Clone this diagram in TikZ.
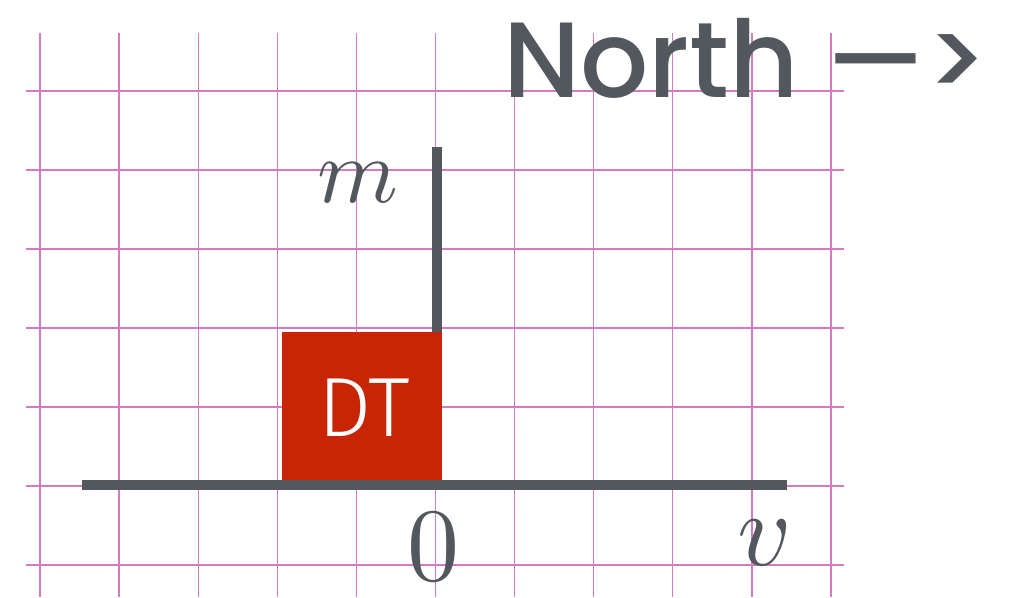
\documentclass[tikz,border=0pt]{standalone}
\usepackage{fontspec}
\IfFontExistsTF{Poppins Medium}{\newfontfamily\handfont{Poppins Medium}}{\newfontfamily\handfont{Poppins}}
\IfFontExistsTF{Fira Sans Light}{\newfontfamily\dtfont{Fira Sans Light}}{\newfontfamily\dtfont{Fira Sans}}
\definecolor{axisgray}{HTML}{53585F}
\definecolor{boxred}{HTML}{C82506}
\definecolor{gridpink}{HTML}{D47BC0}
\tikzset{
  gridline/.style={draw=gridpink, line width=1.3pt},
  axisline/.style={draw=axisgray, line width=10pt},
  mathlabel/.style={text=axisgray, inner sep=0pt},
}
\begin{document}
\begin{tikzpicture}[x=1pt,y=-1pt]
\useasboundingbox (0,0) rectangle (1014,597);
% grid
\foreach \i in {0,...,10} {
  \draw[gridline] ({40+79.1*\i},33) -- ({40+79.1*\i},597);
}
\foreach \j in {0,...,6} {
  \draw[gridline] (26,{91+79*\j}) -- (844,{91+79*\j});
}
% axes
\coordinate (hleft) at (82,485);
\coordinate (hright) at (787,485);
\coordinate (origin) at (437,485);
\coordinate (vtop) at (437,147);
\draw[axisline] (origin) -- (vtop);
% red box
\node[fill=boxred, minimum width=160pt, minimum height=148pt, inner sep=0pt, anchor=north west] (dt) at (282,332) {};
\node[text=white, inner sep=0pt] (dtlabel) at (364,408) {\dtfont\fontsize{84}{84}\selectfont DT};
\draw[axisline] (hleft) -- (hright);
% labels
\node[mathlabel] (mlab) at (358,183) {\scalebox{9.2}{$m$}};
\node[mathlabel] (zlab) at (433,547) {\scalebox{10.4}{$0$}};
\node[mathlabel] (vlab) at (765,543) {\scalebox{10.5}{$v$}};
\node[text=axisgray, inner sep=0pt, anchor=base west] (north) at (503,97) {\handfont\fontsize{107}{107}\selectfont North —>};
\end{tikzpicture}
\end{document}
